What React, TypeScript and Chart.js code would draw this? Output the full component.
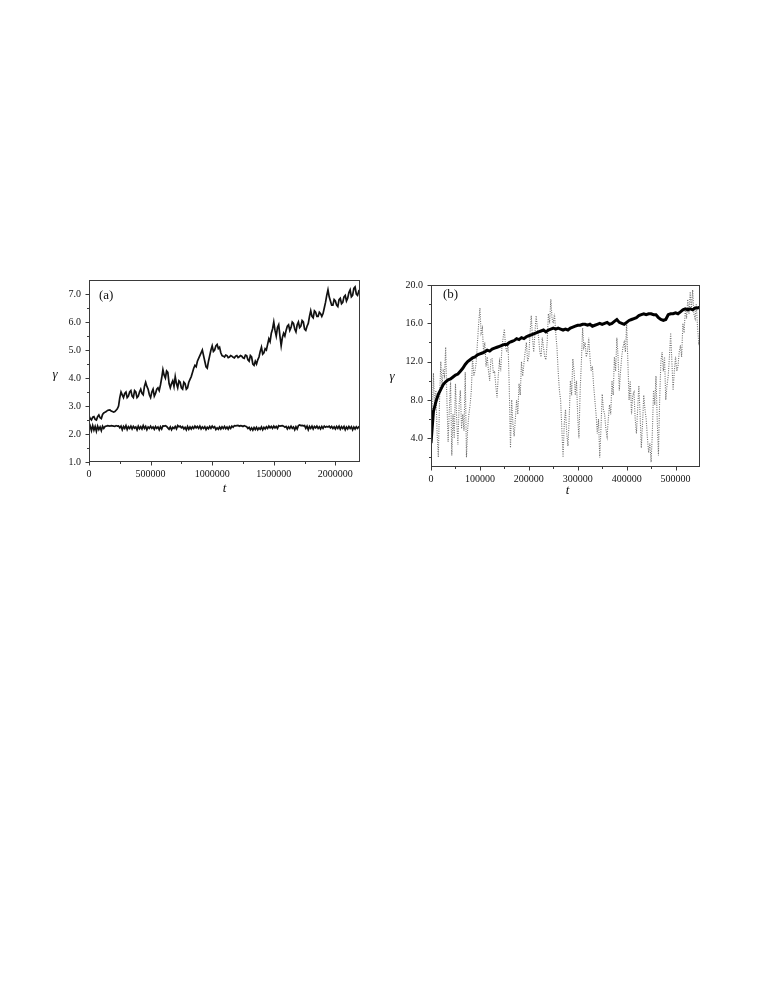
import React, { useEffect, useRef } from 'react';
import { Chart, registerables } from 'chart.js';

Chart.register(...registerables);

const FONT = '"Liberation Serif", "Times New Roman", Times, serif';

// ---------- Panel (a) ----------
const STEP_A = 10000; // t spacing of samples in panel (a)
const UPPER_A = [
  2.65, 2.55, 2.5, 2.6, 2.62, 2.52, 2.5, 2.62, 2.68, 2.58,
  2.55, 2.7, 2.75, 2.78, 2.8, 2.84, 2.85, 2.86, 2.82, 2.8,
  2.78, 2.8, 2.85, 2.9, 3.0, 3.3, 3.5, 3.4, 3.3, 3.45,
  3.5, 3.3, 3.35, 3.5, 3.55, 3.35, 3.3, 3.55, 3.5, 3.3,
  3.35, 3.5, 3.6, 3.45, 3.4, 3.7, 3.85, 3.7, 3.6, 3.4,
  3.3, 3.5, 3.6, 3.35, 3.45, 3.6, 3.65, 3.55, 3.75, 4.0,
  4.3, 4.1, 4.0, 4.25, 4.2, 3.8, 3.65, 3.8, 3.9, 3.7,
  4.05, 3.8, 3.65, 3.9, 3.85, 3.65, 3.6, 3.85, 3.8, 3.6,
  3.65, 3.85, 3.95, 4.05, 4.2, 4.35, 4.45, 4.4, 4.6, 4.7,
  4.8, 4.9, 5.0, 4.8, 4.6, 4.4, 4.35, 4.6, 4.8, 5.0,
  5.15, 4.95, 5.0, 5.15, 5.2, 5.05, 5.1, 4.9, 4.8, 4.78,
  4.75, 4.82, 4.8, 4.73, 4.75, 4.8, 4.78, 4.74, 4.72, 4.78,
  4.8, 4.73, 4.76, 4.8, 4.78, 4.72, 4.7, 4.82, 4.8, 4.65,
  4.6, 4.8, 4.75, 4.5, 4.45, 4.6, 4.5, 4.65, 4.75, 4.95,
  5.1, 4.85, 4.9, 5.05, 5.0, 5.2, 5.4, 5.3, 5.6, 5.75,
  6.0, 5.7, 5.5, 5.8, 5.9, 5.5, 5.15, 5.45, 5.6, 5.5,
  5.7, 5.85, 5.9, 5.7, 5.8, 6.0, 5.95, 5.75, 5.65, 5.9,
  6.0, 5.8, 5.85, 6.05, 6.0, 5.75, 5.7, 5.85, 5.95, 6.2,
  6.4, 6.2, 6.15, 6.4, 6.35, 6.2, 6.2, 6.35, 6.3, 6.2,
  6.3, 6.5, 6.7, 6.95, 7.15, 6.9, 6.75, 6.6, 6.6, 6.8,
  6.75, 6.6, 6.55, 6.8, 6.85, 6.65, 6.7, 6.9, 6.95, 6.75,
  6.85, 7.05, 7.15, 6.9, 6.95, 7.2, 7.25, 7.0, 6.95, 7.1,
  7.05,
];
const LOWER_A = [
  2.15, 2.28, 2.12, 2.3, 2.14, 2.27, 2.1, 2.28, 2.16, 2.25,
  2.12, 2.28, 2.2, 2.27, 2.28, 2.3, 2.29, 2.28, 2.3, 2.29,
  2.28, 2.27, 2.3, 2.28, 2.29, 2.22, 2.28, 2.15, 2.27, 2.2,
  2.3, 2.16, 2.26, 2.2, 2.28, 2.18, 2.27, 2.21, 2.25, 2.15,
  2.28, 2.19, 2.26, 2.18, 2.3, 2.2, 2.27, 2.15, 2.25, 2.2,
  2.28, 2.2, 2.25, 2.17, 2.27, 2.2, 2.25, 2.15, 2.26, 2.18,
  2.29, 2.28, 2.3, 2.27, 2.22, 2.17, 2.25, 2.15, 2.24, 2.2,
  2.27, 2.18, 2.3, 2.26, 2.28, 2.22, 2.26, 2.18, 2.24, 2.15,
  2.27, 2.17, 2.25, 2.18, 2.26, 2.2, 2.28, 2.22, 2.27, 2.2,
  2.28, 2.18, 2.25, 2.2, 2.26, 2.16, 2.24, 2.19, 2.27, 2.2,
  2.28, 2.22, 2.26, 2.16, 2.22, 2.17, 2.25, 2.18, 2.26, 2.2,
  2.27, 2.19, 2.25, 2.17, 2.26, 2.2, 2.28, 2.24, 2.3, 2.29,
  2.3, 2.31, 2.28, 2.3, 2.29, 2.27, 2.3, 2.28, 2.26, 2.2,
  2.24, 2.15, 2.22, 2.14, 2.23, 2.16, 2.24, 2.15, 2.22, 2.17,
  2.25, 2.15, 2.24, 2.18, 2.26, 2.2, 2.28, 2.22, 2.27, 2.2,
  2.28, 2.22, 2.27, 2.2, 2.3, 2.28, 2.29, 2.3, 2.28, 2.24,
  2.27, 2.18, 2.26, 2.2, 2.28, 2.2, 2.25, 2.15, 2.26, 2.18,
  2.3, 2.32, 2.3, 2.31, 2.29, 2.3, 2.2, 2.28, 2.15, 2.27,
  2.2, 2.28, 2.18, 2.27, 2.22, 2.28, 2.2, 2.26, 2.18, 2.27,
  2.2, 2.28, 2.24, 2.27, 2.25, 2.28, 2.22, 2.27, 2.2, 2.26,
  2.18, 2.27, 2.2, 2.28, 2.17, 2.26, 2.2, 2.27, 2.15, 2.25,
  2.18, 2.27, 2.2, 2.26, 2.15, 2.25, 2.18, 2.26, 2.2, 2.25,
  2.22,
];
const X_MAJOR_A = [0, 500000, 1000000, 1500000, 2000000];
const X_MINOR_A = [250000, 750000, 1250000, 1750000];
const Y_MAJOR_A = [1, 2, 3, 4, 5, 6, 7];
const Y_MINOR_A = [1.5, 2.5, 3.5, 4.5, 5.5, 6.5];

// ---------- Panel (b) ----------
const STEP_B_BLACK = 5000;
const STEP_B_GRAY = 2500;
const BLACK_B = [
  3.5, 6.8, 7.8, 8.6, 9.1, 9.6, 9.9, 10.1, 10.2, 10.4,
  10.6, 10.7, 11.0, 11.3, 11.7, 12.0, 12.2, 12.4, 12.5, 12.7,
  12.8, 12.9, 13.0, 13.2, 13.1, 13.3, 13.4, 13.5, 13.6, 13.7,
  13.8, 13.8, 14.0, 14.1, 14.2, 14.4, 14.3, 14.5, 14.4, 14.6,
  14.7, 14.8, 14.9, 15.0, 15.1, 15.2, 15.3, 15.1, 15.3, 15.4,
  15.5, 15.4, 15.5, 15.4, 15.3, 15.4, 15.3, 15.5, 15.6, 15.7,
  15.8, 15.8, 15.9, 15.9, 15.8, 15.9, 15.7, 15.8, 15.9, 16.0,
  15.9, 16.0, 16.1, 15.9, 16.0, 16.2, 16.4, 16.1, 16.0, 15.9,
  16.1, 16.3, 16.4, 16.5, 16.6, 16.8, 16.9, 17.0, 16.9, 17.0,
  17.0, 16.9, 16.9, 16.6, 16.4, 16.3, 16.4, 16.9, 17.0, 17.0,
  17.1, 17.0, 17.2, 17.4, 17.5, 17.4, 17.5, 17.4, 17.6, 17.6,
  17.7,
];
const GRAY_B = [
  1.8, 6.0, 10.8, 7.0, 9.0, 4.5, 2.0, 8.0, 12.0, 9.5,
  11.0, 10.5, 13.5, 8.0, 3.6, 7.0, 9.9, 2.2, 6.5, 4.0,
  9.7, 6.0, 3.3, 7.5, 9.0, 5.0, 6.5, 4.8, 10.9, 2.0,
  5.0, 6.5, 7.5, 9.0, 12.5, 10.5, 11.0, 12.0, 14.0, 16.0,
  17.6, 15.0, 15.5, 13.0, 14.0, 11.5, 12.5, 11.0, 10.0, 12.3,
  12.3, 10.8, 11.0, 9.5, 8.2, 10.5, 12.0, 11.0, 13.5, 14.5,
  15.4, 13.5, 13.0, 14.0, 9.3, 3.0, 8.0, 5.5, 4.2, 6.0,
  8.0, 6.5, 9.7, 8.5, 12.0, 10.5, 11.8, 13.0, 14.0, 12.0,
  12.5, 15.0, 16.8, 14.5, 13.0, 15.0, 16.8, 15.5, 14.5, 13.0,
  12.5, 14.5, 13.5, 12.5, 12.2, 14.0, 17.0, 16.0, 18.5, 16.5,
  16.0, 17.0, 15.0, 13.5, 11.0, 9.0, 8.0, 5.0, 2.0, 5.5,
  7.0, 4.5, 3.2, 6.0, 10.0, 8.5, 12.3, 11.0, 8.5, 10.0,
  6.2, 4.0, 9.0, 12.0, 15.5, 13.5, 14.0, 12.5, 13.0, 14.5,
  12.5, 11.0, 11.5, 9.5, 8.0, 6.5, 4.5, 6.0, 2.0, 5.0,
  8.6, 7.0, 6.5, 5.0, 4.2, 6.0, 7.5, 6.5, 10.0, 8.5,
  12.5, 11.0, 14.5, 12.5, 9.0, 11.0, 12.5, 13.5, 14.0, 13.0,
  16.0, 12.0, 8.0, 10.0, 6.5, 8.5, 8.8, 6.0, 4.5, 7.0,
  9.5, 6.5, 3.0, 5.5, 8.5, 7.0, 6.0, 4.0, 2.5, 3.5,
  1.5, 4.5, 9.0, 7.5, 10.5, 6.0, 2.2, 8.0, 12.0, 13.0,
  11.0, 12.5, 8.0, 9.5, 10.5, 12.5, 15.0, 12.0, 9.0, 11.0,
  12.5, 11.0, 11.5, 13.0, 13.7, 12.5, 16.0, 15.0, 17.5, 16.5,
  18.5, 17.0, 19.3, 17.5, 19.5, 17.0, 16.5, 18.0, 15.5, 14.0,
  14.5,
];
const X_MAJOR_B = [0, 100000, 200000, 300000, 400000, 500000];
const X_MINOR_B = [50000, 150000, 250000, 350000, 450000];
const Y_MAJOR_B = [4, 8, 12, 16, 20];
const Y_MINOR_B = [2, 6, 10, 14, 18];

const toPoints = (vals: number[], step: number) => vals.map((y, i) => ({ x: i * step, y }));

type PanelProps = {
  box: { left: number; top: number; width: number; height: number };
  padding: { left: number; right: number; top: number; bottom: number };
  yWidth: number;
  xHeight: number;
  xRange: [number, number];
  yRange: [number, number];
  xMajor: number[];
  xMinor: number[];
  yMajor: number[];
  yMinor: number[];
  datasets: any[];
  label: string;
  labelPos: [number, number];
  yTitlePos: [number, number];
  xTitlePos: [number, number];
};

function Panel(p: PanelProps) {
  const ref = useRef<HTMLCanvasElement | null>(null);
  useEffect(() => {
    if (!ref.current) return;
    const frame = {
      id: 'frame',
      afterDatasetsDraw(chart: any) {
        const { ctx, chartArea: a } = chart;
        const xs = chart.scales.x;
        const ys = chart.scales.y;
        const L = Math.round(a.left) + 0.5;
        const R = Math.round(a.right) - 0.5;
        const T = Math.round(a.top) + 0.5;
        const B = Math.round(a.bottom) - 0.5;
        ctx.save();
        ctx.strokeStyle = '#3a3a3a';
        ctx.lineWidth = 1;
        ctx.strokeRect(L, T, R - L, B - T);
        ctx.beginPath();
        const xt = (vals: number[], len: number) => {
          vals.forEach((v) => {
            const px = Math.round(xs.getPixelForValue(v)) + 0.5;
            ctx.moveTo(px, B);
            ctx.lineTo(px, B + len);
          });
        };
        const yt = (vals: number[], len: number) => {
          vals.forEach((v) => {
            const py = Math.round(ys.getPixelForValue(v)) + 0.5;
            ctx.moveTo(L, py);
            ctx.lineTo(L - len, py);
          });
        };
        xt(p.xMajor, 4);
        xt(p.xMinor, 2.5);
        yt(p.yMajor, 4);
        yt(p.yMinor, 2.5);
        ctx.stroke();
        ctx.fillStyle = '#111';
        ctx.textAlign = 'center';
        ctx.textBaseline = 'middle';
        ctx.font = `italic 13px ${FONT}`;
        ctx.fillText('\u03B3', a.left + p.yTitlePos[0], (a.top + a.bottom) / 2 + p.yTitlePos[1]);
        ctx.fillText('t', (a.left + a.right) / 2 + p.xTitlePos[0], a.bottom + p.xTitlePos[1]);
        ctx.textAlign = 'left';
        ctx.font = `13px ${FONT}`;
        ctx.fillText(p.label, a.left + p.labelPos[0], a.top + p.labelPos[1]);
        ctx.restore();
      },
    };
    const tickFont = { family: FONT, size: 10 };
    const chart = new Chart(ref.current, {
      type: 'line',
      data: { datasets: p.datasets },
      options: {
        animation: false,
        responsive: false,
        maintainAspectRatio: false,
        events: [],
        layout: { padding: p.padding },
        plugins: { legend: { display: false }, tooltip: { enabled: false } },
        elements: { point: { radius: 0 }, line: { tension: 0 } },
        scales: {
          x: {
            type: 'linear',
            min: p.xRange[0],
            max: p.xRange[1],
            afterBuildTicks: (s: any) => {
              s.ticks = p.xMajor.map((v) => ({ value: v }));
            },
            afterFit: (s: any) => {
              s.height = p.xHeight;
            },
            ticks: {
              font: tickFont,
              color: '#111',
              padding: 6,
              maxRotation: 0,
              autoSkip: false,
              callback: (v: any) => String(v),
            },
            grid: { display: false, drawTicks: false },
            border: { display: false },
          },
          y: {
            type: 'linear',
            min: p.yRange[0],
            max: p.yRange[1],
            afterBuildTicks: (s: any) => {
              s.ticks = p.yMajor.map((v) => ({ value: v }));
            },
            afterFit: (s: any) => {
              s.width = p.yWidth;
            },
            ticks: {
              font: tickFont,
              color: '#111',
              padding: 8,
              autoSkip: false,
              callback: (v: any) => Number(v).toFixed(1),
            },
            grid: { display: false, drawTicks: false },
            border: { display: false },
          },
        },
      },
      plugins: [frame],
    });
    return () => chart.destroy();
  }, []);
  return (
    <canvas
      ref={ref}
      width={p.box.width}
      height={p.box.height}
      style={{ position: 'absolute', left: p.box.left, top: p.box.top, width: p.box.width, height: p.box.height }}
    />
  );
}

export default function App() {
  const dsA = [
    { data: toPoints(UPPER_A, STEP_A), borderColor: '#111', borderWidth: 1.7, pointRadius: 0, fill: false },
    { data: toPoints(LOWER_A, STEP_A), borderColor: '#111', borderWidth: 1.7, pointRadius: 0, fill: false },
  ];
  const dsB = [
    { data: toPoints(BLACK_B, STEP_B_BLACK), borderColor: '#000', borderWidth: 3, pointRadius: 0, fill: false },
    {
      data: toPoints(GRAY_B, STEP_B_GRAY),
      borderColor: '#707070',
      borderWidth: 1.1,
      borderDash: [1, 1.3],
      pointRadius: 0,
      fill: false,
    },
  ];
  return (
    <div style={{ position: 'absolute', left: 0, top: 0, width: 763, height: 987, background: '#fff' }}>
      <Panel
        box={{ left: 0, top: 250, width: 380, height: 260 }}
        padding={{ left: 44, right: 20, top: 30, bottom: 8 }}
        yWidth={45}
        xHeight={40}
        xRange={[0, 2200000]}
        yRange={[1, 7.5]}
        xMajor={X_MAJOR_A}
        xMinor={X_MINOR_A}
        yMajor={Y_MAJOR_A}
        yMinor={Y_MINOR_A}
        datasets={dsA}
        label="(a)"
        labelPos={[10, 16]}
        yTitlePos={[-34, 4]}
        xTitlePos={[0, 27]}
      />
      <Panel
        box={{ left: 380, top: 250, width: 340, height: 260 }}
        padding={{ left: 6, right: 20, top: 35, bottom: 8 }}
        yWidth={45}
        xHeight={35}
        xRange={[0, 550000]}
        yRange={[1, 20]}
        xMajor={X_MAJOR_B}
        xMinor={X_MINOR_B}
        yMajor={Y_MAJOR_B}
        yMinor={Y_MINOR_B}
        datasets={dsB}
        label="(b)"
        labelPos={[12, 10]}
        yTitlePos={[-39, 1]}
        xTitlePos={[2, 24]}
      />
    </div>
  );
}
